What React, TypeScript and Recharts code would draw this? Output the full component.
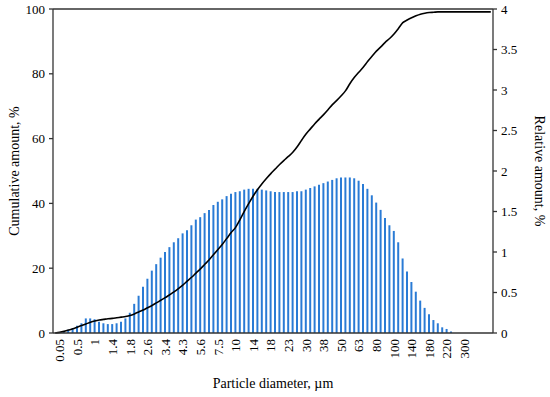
import { Bar, ComposedChart, Label, Line, ReferenceLine, XAxis, YAxis } from "recharts";

// labels shown every 4th size class, starting with the second one
const diameterLabels = [
  "0.05", "0.5", "1", "1.4", "1.8", "2.6", "3.4", "4.3", "5.6", "7.5", "10", "14",
  "18", "23", "30", "38", "50", "63", "80", "100", "140", "180", "220", "300"
];

// relative amount per size class, %
const relativeAmount = [
  0, 0.01, 0.02, 0.04, 0.06, 0.09, 0.12, 0.18, 0.18, 0.17,
  0.14, 0.12, 0.11, 0.11, 0.12, 0.14, 0.18, 0.25, 0.36, 0.46,
  0.57, 0.67, 0.77, 0.85, 0.93, 1.0, 1.06, 1.12, 1.17, 1.23,
  1.27, 1.33, 1.4, 1.43, 1.48, 1.52, 1.58, 1.62, 1.65, 1.69,
  1.72, 1.74, 1.75, 1.77, 1.78, 1.78, 1.78, 1.77, 1.76, 1.75,
  1.74, 1.74, 1.74, 1.74, 1.74, 1.75, 1.75, 1.77, 1.79, 1.81,
  1.83, 1.85, 1.87, 1.89, 1.91, 1.92, 1.92, 1.92, 1.91, 1.88,
  1.84, 1.78, 1.7, 1.61, 1.52, 1.42, 1.33, 1.26, 1.12, 0.92,
  0.76, 0.63, 0.51, 0.4, 0.31, 0.23, 0.16, 0.12, 0.07, 0.05,
  0.02, 0, 0, 0, 0, 0, 0, 0, 0, 0
];

// cumulative amount, %
const cumulativeAmount = [
  0, 0.2, 0.5, 0.9, 1.3, 1.8, 2.3, 2.8, 3.3, 3.7,
  4.0, 4.2, 4.4, 4.5, 4.7, 4.9, 5.1, 5.4, 5.9, 6.5,
  7.1, 7.8, 8.5, 9.3, 10.1, 10.9, 11.8, 12.7, 13.7, 14.8,
  16.0, 17.2, 18.5, 19.8, 21.2, 22.6, 24.2, 25.8, 27.4, 29.2,
  31.0, 32.6, 35.0, 37.6, 40.0, 42.3, 44.3, 46.1, 47.7, 49.2,
  50.6, 52.0, 53.3, 54.5, 55.8, 57.5, 59.5, 61.4, 63.0, 64.6,
  66.0, 67.4, 68.9, 70.5, 71.8, 73.2, 74.8, 77.0, 78.9, 80.5,
  82.0, 83.8, 85.4, 87.0, 88.3, 89.7, 90.9, 92.3, 94.0, 95.8,
  96.6, 97.3, 97.9, 98.4, 98.7, 98.9, 99.0, 99.1, 99.1, 99.1,
  99.1, 99.1, 99.1, 99.1, 99.1, 99.1, 99.1, 99.1, 99.1, 99.1
];

const data = relativeAmount.map((rel, i) => ({ i, rel, cum: cumulativeAmount[i] }));

const labelFor = (i: number) => (i % 4 === 1 ? diameterLabels[(i - 1) / 4] ?? "" : "");

const FONT = "'Liberation Serif', 'Times New Roman', serif";

function DiameterTick({ x, y, payload }: { x: number; y: number; payload: { value: number } }) {
  const text = labelFor(payload.value);
  if (!text) return null;
  const ty = y + 6;
  return (
    <text
      x={x}
      y={ty}
      transform={`rotate(-90 ${x} ${ty})`}
      textAnchor="end"
      dominantBaseline="central"
      fontSize={13}
      fontFamily={FONT}
      fill="#000"
    >
      {text}
    </text>
  );
}

export default function App() {
  const tickStyle = { fontSize: 13, fontFamily: FONT, fill: "#000" };
  return (
    <div style={{ position: "fixed", left: 0, top: 0, background: "#fff" }}>
      <ComposedChart width={550} height={397} data={data} margin={{ top: 9, right: 0, bottom: 0, left: 0 }}>
        <XAxis
          dataKey="i"
          xAxisId="x"
          interval={0}
          tickLine={false}
          tickSize={0}
          tickMargin={0}
          height={64}
          stroke="#333"
          strokeWidth={1.3}
          tick={DiameterTick as any}
        >
          <Label value="Particle diameter, µm" position="insideBottom" offset={9} style={{ fontSize: 14, fontFamily: FONT, fill: "#000" }} />
        </XAxis>
        <YAxis
          yAxisId="left"
          domain={[0, 100]}
          ticks={[0, 20, 40, 60, 80, 100]}
          width={53}
          tickSize={4}
          tickMargin={4}
          stroke="#333"
          strokeWidth={1.3}
          tick={tickStyle}
        >
          <Label value="Cumulative amount, %" angle={-90} position="insideLeft" offset={14} style={{ fontSize: 14, fontFamily: FONT, fill: "#000", textAnchor: "middle" }} />
        </YAxis>
        <YAxis
          yAxisId="right"
          orientation="right"
          domain={[0, 4]}
          ticks={[0, 0.5, 1, 1.5, 2, 2.5, 3, 3.5, 4]}
          width={57}
          tickSize={4}
          tickMargin={4}
          stroke="#333"
          strokeWidth={1.3}
          tick={tickStyle}
        >
          <Label value="Relative amount, %" angle={90} position="insideRight" offset={10} style={{ fontSize: 14, fontFamily: FONT, fill: "#000", textAnchor: "middle" }} />
        </YAxis>
        <ReferenceLine yAxisId="left" xAxisId="x" y={100} stroke="#333" strokeWidth={1.3} />
        <Bar xAxisId="x" yAxisId="right" dataKey="rel" fill="#2a7bd5" barSize={2} isAnimationActive={false} />
        <Line
          xAxisId="x"
          yAxisId="left"
          dataKey="cum"
          type="monotone"
          stroke="#000"
          strokeWidth={1.6}
          dot={false}
          isAnimationActive={false}
        />
      </ComposedChart>
    </div>
  );
}
